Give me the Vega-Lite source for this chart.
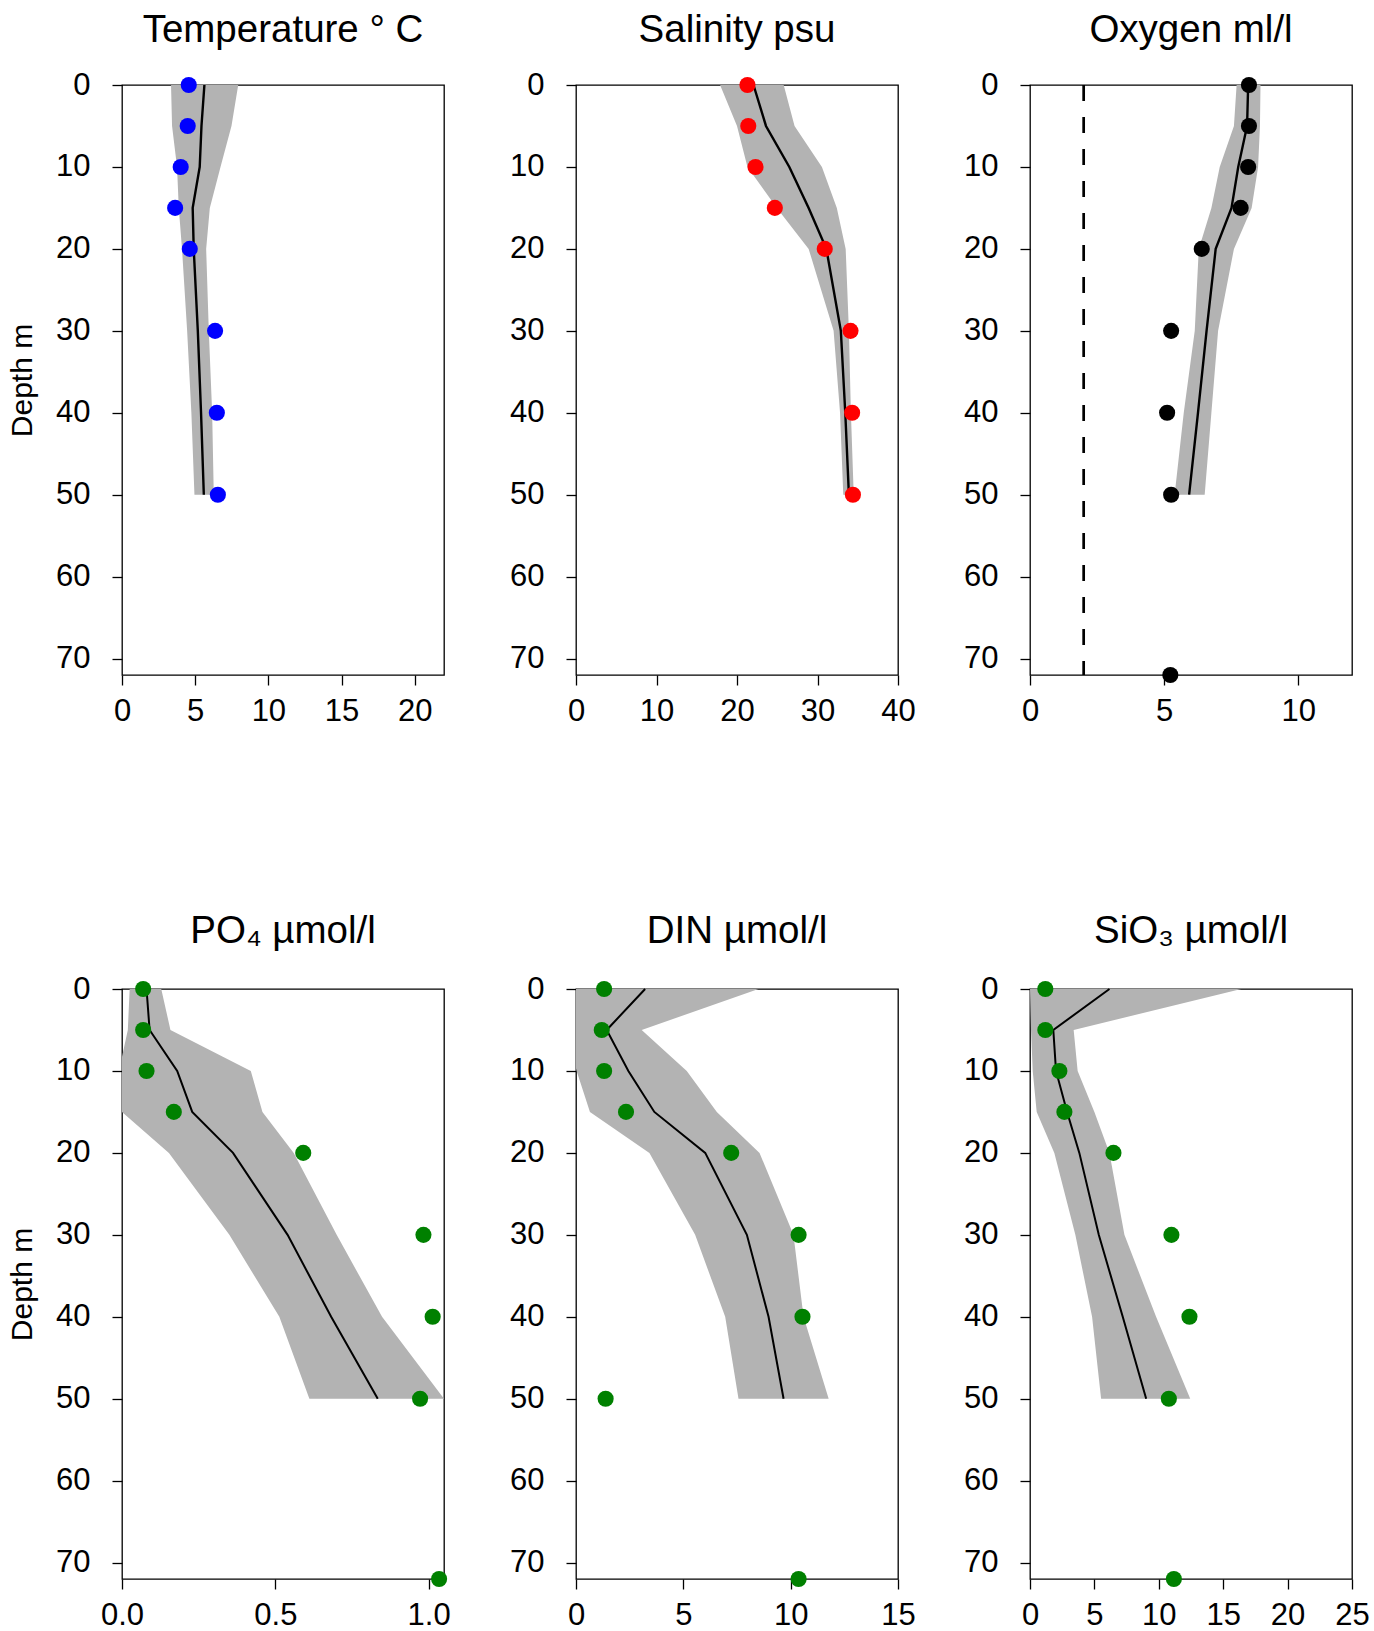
{
  "$schema": "https://vega.github.io/schema/vega-lite/v6.json",
  "background": "white",
  "padding": {"left": 6, "top": 9, "right": 0, "bottom": 0},
  "columns": 3,
  "bounds": "flush",
  "spacing": {"row": 314, "column": 132},
  "datasets": {
    "temp_band": [
      {"depth": 0, "mean": 5.63, "lo": 3.35, "hi": 7.94},
      {"depth": 5, "mean": 5.43, "lo": 3.42, "hi": 7.48},
      {"depth": 10, "mean": 5.31, "lo": 3.76, "hi": 6.73},
      {"depth": 15, "mean": 4.83, "lo": 3.88, "hi": 6.0},
      {"depth": 20, "mean": 4.9, "lo": 4.1, "hi": 5.75},
      {"depth": 30, "mean": 5.18, "lo": 4.45, "hi": 5.93},
      {"depth": 40, "mean": 5.4, "lo": 4.74, "hi": 6.16},
      {"depth": 50, "mean": 5.59, "lo": 4.95, "hi": 6.27}
    ],
    "temp_obs": [
      {"depth": 0, "value": 4.56}, {"depth": 5, "value": 4.49}, {"depth": 10, "value": 4.01},
      {"depth": 15, "value": 3.63}, {"depth": 20, "value": 4.63}, {"depth": 30, "value": 6.36},
      {"depth": 40, "value": 6.48}, {"depth": 50, "value": 6.55}
    ],
    "sal_band": [
      {"depth": 0, "mean": 22.05, "lo": 17.9, "hi": 25.8},
      {"depth": 5, "mean": 23.6, "lo": 20.0, "hi": 27.15},
      {"depth": 10, "mean": 26.5, "lo": 21.3, "hi": 30.55},
      {"depth": 15, "mean": 28.9, "lo": 24.95, "hi": 32.4},
      {"depth": 20, "mean": 31.1, "lo": 28.9, "hi": 33.5},
      {"depth": 30, "mean": 32.9, "lo": 32.0, "hi": 33.9},
      {"depth": 40, "mean": 33.45, "lo": 32.8, "hi": 34.15},
      {"depth": 50, "mean": 33.9, "lo": 33.2, "hi": 34.5}
    ],
    "sal_obs": [
      {"depth": 0, "value": 21.3}, {"depth": 5, "value": 21.4}, {"depth": 10, "value": 22.3},
      {"depth": 15, "value": 24.7}, {"depth": 20, "value": 30.9}, {"depth": 30, "value": 34.1},
      {"depth": 40, "value": 34.3}, {"depth": 50, "value": 34.4}
    ],
    "oxy_band": [
      {"depth": 0, "mean": 8.13, "lo": 7.7, "hi": 8.59},
      {"depth": 5, "mean": 8.09, "lo": 7.6, "hi": 8.57},
      {"depth": 10, "mean": 7.76, "lo": 7.07, "hi": 8.5},
      {"depth": 15, "mean": 7.51, "lo": 6.76, "hi": 8.26},
      {"depth": 20, "mean": 6.92, "lo": 6.29, "hi": 7.6},
      {"depth": 30, "mean": 6.58, "lo": 6.14, "hi": 7.01},
      {"depth": 40, "mean": 6.26, "lo": 5.73, "hi": 6.76},
      {"depth": 50, "mean": 5.93, "lo": 5.39, "hi": 6.51}
    ],
    "oxy_obs": [
      {"depth": 0, "value": 8.16}, {"depth": 5, "value": 8.16}, {"depth": 10, "value": 8.13},
      {"depth": 15, "value": 7.85}, {"depth": 20, "value": 6.4}, {"depth": 30, "value": 5.26},
      {"depth": 40, "value": 5.11}, {"depth": 50, "value": 5.26}, {"depth": 72, "value": 5.23}
    ],
    "oxy_limit": [{"limit": 2}],
    "po4_band": [
      {"depth": 0, "mean": 0.08, "lo": 0.025, "hi": 0.128},
      {"depth": 5, "mean": 0.09, "lo": 0.019, "hi": 0.158},
      {"depth": 10, "mean": 0.18, "lo": -0.01, "hi": 0.42},
      {"depth": 15, "mean": 0.229, "lo": 0.0, "hi": 0.458},
      {"depth": 20, "mean": 0.362, "lo": 0.153, "hi": 0.56},
      {"depth": 30, "mean": 0.54, "lo": 0.35, "hi": 0.7},
      {"depth": 40, "mean": 0.682, "lo": 0.513, "hi": 0.848},
      {"depth": 50, "mean": 0.834, "lo": 0.611, "hi": 1.05}
    ],
    "po4_obs": [
      {"depth": 0, "value": 0.069}, {"depth": 5, "value": 0.069}, {"depth": 10, "value": 0.08},
      {"depth": 15, "value": 0.169}, {"depth": 20, "value": 0.591}, {"depth": 30, "value": 0.983},
      {"depth": 40, "value": 1.013}, {"depth": 50, "value": 0.972}, {"depth": 72, "value": 1.034}
    ],
    "din_band": [
      {"depth": 0, "mean": 3.22, "lo": -0.5, "hi": 8.5},
      {"depth": 5, "mean": 1.43, "lo": -0.5, "hi": 3.06},
      {"depth": 10, "mean": 2.44, "lo": 0.03, "hi": 5.16},
      {"depth": 15, "mean": 3.65, "lo": 0.65, "hi": 6.56},
      {"depth": 20, "mean": 6.02, "lo": 3.42, "hi": 8.55},
      {"depth": 30, "mean": 7.96, "lo": 5.55, "hi": 10.13},
      {"depth": 40, "mean": 8.97, "lo": 6.95, "hi": 10.6},
      {"depth": 50, "mean": 9.67, "lo": 7.57, "hi": 11.77}
    ],
    "din_obs": [
      {"depth": 0, "value": 1.31}, {"depth": 5, "value": 1.2}, {"depth": 10, "value": 1.31},
      {"depth": 15, "value": 2.33}, {"depth": 20, "value": 7.23}, {"depth": 30, "value": 10.37},
      {"depth": 40, "value": 10.55}, {"depth": 50, "value": 1.38}, {"depth": 72, "value": 10.37}
    ],
    "sio_band": [
      {"depth": 0, "mean": 6.17, "lo": 0.0, "hi": 16.4},
      {"depth": 5, "mean": 1.81, "lo": 0.08, "hi": 3.39},
      {"depth": 10, "mean": 2.02, "lo": 0.21, "hi": 3.7},
      {"depth": 15, "mean": 2.88, "lo": 0.52, "hi": 5.0},
      {"depth": 20, "mean": 3.83, "lo": 1.89, "hi": 6.17},
      {"depth": 30, "mean": 5.34, "lo": 3.52, "hi": 7.33},
      {"depth": 40, "mean": 7.2, "lo": 4.82, "hi": 9.79},
      {"depth": 50, "mean": 9.02, "lo": 5.52, "hi": 12.44}
    ],
    "sio_obs": [
      {"depth": 0, "value": 1.19}, {"depth": 5, "value": 1.19}, {"depth": 10, "value": 2.28},
      {"depth": 15, "value": 2.67}, {"depth": 20, "value": 6.48}, {"depth": 30, "value": 10.98},
      {"depth": 40, "value": 12.38}, {"depth": 50, "value": 10.78}, {"depth": 72, "value": 11.17}
    ]
  },
  "concat": [
    {
      "width": 322, "height": 590,
      "title": {"text": "Temperature ° C", "offset": 19},
      "layer": [
        {"data": {"name": "temp_band"}, "mark": {"type": "area", "orient": "horizontal", "color": "#B3B3B3", "opacity": 1, "clip": true},
         "encoding": {
           "y": {"field": "depth", "type": "quantitative", "scale": {"domain": [0, 72], "reverse": true, "nice": false, "zero": false},
                 "axis": {"values": [0, 10, 20, 30, 40, 50, 60, 70], "title": "Depth m", "titleX": -91, "titleY": 295, "titleAngle": -90, "titleBaseline": "alphabetic", "titleAlign": "center"}},
           "x": {"field": "lo", "type": "quantitative", "scale": {"domain": [0, 22], "nice": false, "zero": false}, "axis": {"values": [0, 5, 10, 15, 20], "title": null}},
           "x2": {"field": "hi"}}},
        {"data": {"name": "temp_band"}, "mark": {"type": "line", "color": "black", "strokeWidth": 2.4},
         "encoding": {"y": {"field": "depth", "type": "quantitative"}, "x": {"field": "mean", "type": "quantitative"}, "order": {"field": "depth", "type": "quantitative"}}},
        {"data": {"name": "temp_obs"}, "mark": {"type": "circle", "color": "#0000FF", "size": 260, "opacity": 1},
         "encoding": {"y": {"field": "depth", "type": "quantitative"}, "x": {"field": "value", "type": "quantitative"}}}
      ]
    },
    {
      "width": 322, "height": 590,
      "title": {"text": "Salinity psu", "offset": 19},
      "layer": [
        {"data": {"name": "sal_band"}, "mark": {"type": "area", "orient": "horizontal", "color": "#B3B3B3", "opacity": 1, "clip": true},
         "encoding": {
           "y": {"field": "depth", "type": "quantitative", "scale": {"domain": [0, 72], "reverse": true, "nice": false, "zero": false},
                 "axis": {"values": [0, 10, 20, 30, 40, 50, 60, 70], "title": null}},
           "x": {"field": "lo", "type": "quantitative", "scale": {"domain": [0, 40], "nice": false, "zero": false}, "axis": {"values": [0, 10, 20, 30, 40], "title": null}},
           "x2": {"field": "hi"}}},
        {"data": {"name": "sal_band"}, "mark": {"type": "line", "color": "black", "strokeWidth": 2.4},
         "encoding": {"y": {"field": "depth", "type": "quantitative"}, "x": {"field": "mean", "type": "quantitative"}, "order": {"field": "depth", "type": "quantitative"}}},
        {"data": {"name": "sal_obs"}, "mark": {"type": "circle", "color": "#FF0000", "size": 260, "opacity": 1},
         "encoding": {"y": {"field": "depth", "type": "quantitative"}, "x": {"field": "value", "type": "quantitative"}}}
      ]
    },
    {
      "width": 322, "height": 590,
      "title": {"text": "Oxygen ml/l", "offset": 19},
      "layer": [
        {"data": {"name": "oxy_band"}, "mark": {"type": "area", "orient": "horizontal", "color": "#B3B3B3", "opacity": 1, "clip": true},
         "encoding": {
           "y": {"field": "depth", "type": "quantitative", "scale": {"domain": [0, 72], "reverse": true, "nice": false, "zero": false},
                 "axis": {"values": [0, 10, 20, 30, 40, 50, 60, 70], "title": null}},
           "x": {"field": "lo", "type": "quantitative", "scale": {"domain": [0, 12], "nice": false, "zero": false}, "axis": {"values": [0, 5, 10], "title": null}},
           "x2": {"field": "hi"}}},
        {"data": {"name": "oxy_band"}, "mark": {"type": "line", "color": "black", "strokeWidth": 2.4},
         "encoding": {"y": {"field": "depth", "type": "quantitative"}, "x": {"field": "mean", "type": "quantitative"}, "order": {"field": "depth", "type": "quantitative"}}},
        {"data": {"name": "oxy_limit"}, "mark": {"type": "rule", "color": "black", "strokeWidth": 2.7, "strokeDash": [16, 16]},
         "encoding": {"x": {"field": "limit", "type": "quantitative"}}},
        {"data": {"name": "oxy_obs"}, "mark": {"type": "circle", "color": "#000000", "size": 260, "opacity": 1},
         "encoding": {"y": {"field": "depth", "type": "quantitative"}, "x": {"field": "value", "type": "quantitative"}}}
      ]
    },
    {
      "width": 322, "height": 590,
      "title": {"text": "PO₄ µmol/l", "offset": 22},
      "layer": [
        {"data": {"name": "po4_band"}, "mark": {"type": "area", "orient": "horizontal", "color": "#B3B3B3", "opacity": 1, "clip": true},
         "encoding": {
           "y": {"field": "depth", "type": "quantitative", "scale": {"domain": [0, 72], "reverse": true, "nice": false, "zero": false},
                 "axis": {"values": [0, 10, 20, 30, 40, 50, 60, 70], "title": "Depth m", "titleX": -91, "titleY": 295, "titleAngle": -90, "titleBaseline": "alphabetic", "titleAlign": "center"}},
           "x": {"field": "lo", "type": "quantitative", "scale": {"domain": [0, 1.05], "nice": false, "zero": false}, "axis": {"values": [0, 0.5, 1.0], "format": ".1f", "title": null}},
           "x2": {"field": "hi"}}},
        {"data": {"name": "po4_band"}, "mark": {"type": "line", "color": "black", "strokeWidth": 2},
         "encoding": {"y": {"field": "depth", "type": "quantitative"}, "x": {"field": "mean", "type": "quantitative"}, "order": {"field": "depth", "type": "quantitative"}}},
        {"data": {"name": "po4_obs"}, "mark": {"type": "circle", "color": "#008000", "size": 260, "opacity": 1},
         "encoding": {"y": {"field": "depth", "type": "quantitative"}, "x": {"field": "value", "type": "quantitative"}}}
      ]
    },
    {
      "width": 322, "height": 590,
      "title": {"text": "DIN µmol/l", "offset": 22},
      "layer": [
        {"data": {"name": "din_band"}, "mark": {"type": "area", "orient": "horizontal", "color": "#B3B3B3", "opacity": 1, "clip": true},
         "encoding": {
           "y": {"field": "depth", "type": "quantitative", "scale": {"domain": [0, 72], "reverse": true, "nice": false, "zero": false},
                 "axis": {"values": [0, 10, 20, 30, 40, 50, 60, 70], "title": null}},
           "x": {"field": "lo", "type": "quantitative", "scale": {"domain": [0, 15], "nice": false, "zero": false}, "axis": {"values": [0, 5, 10, 15], "title": null}},
           "x2": {"field": "hi"}}},
        {"data": {"name": "din_band"}, "mark": {"type": "line", "color": "black", "strokeWidth": 2},
         "encoding": {"y": {"field": "depth", "type": "quantitative"}, "x": {"field": "mean", "type": "quantitative"}, "order": {"field": "depth", "type": "quantitative"}}},
        {"data": {"name": "din_obs"}, "mark": {"type": "circle", "color": "#008000", "size": 260, "opacity": 1},
         "encoding": {"y": {"field": "depth", "type": "quantitative"}, "x": {"field": "value", "type": "quantitative"}}}
      ]
    },
    {
      "width": 322, "height": 590,
      "title": {"text": "SiO₃ µmol/l", "offset": 22},
      "layer": [
        {"data": {"name": "sio_band"}, "mark": {"type": "area", "orient": "horizontal", "color": "#B3B3B3", "opacity": 1, "clip": true},
         "encoding": {
           "y": {"field": "depth", "type": "quantitative", "scale": {"domain": [0, 72], "reverse": true, "nice": false, "zero": false},
                 "axis": {"values": [0, 10, 20, 30, 40, 50, 60, 70], "title": null}},
           "x": {"field": "lo", "type": "quantitative", "scale": {"domain": [0, 25], "nice": false, "zero": false}, "axis": {"values": [0, 5, 10, 15, 20, 25], "title": null}},
           "x2": {"field": "hi"}}},
        {"data": {"name": "sio_band"}, "mark": {"type": "line", "color": "black", "strokeWidth": 2},
         "encoding": {"y": {"field": "depth", "type": "quantitative"}, "x": {"field": "mean", "type": "quantitative"}, "order": {"field": "depth", "type": "quantitative"}}},
        {"data": {"name": "sio_obs"}, "mark": {"type": "circle", "color": "#008000", "size": 260, "opacity": 1},
         "encoding": {"y": {"field": "depth", "type": "quantitative"}, "x": {"field": "value", "type": "quantitative"}}}
      ]
    }
  ],
  "config": {
    "font": "Liberation Sans",
    "view": {"stroke": "black", "strokeWidth": 1.3},
    "axis": {
      "grid": false, "domain": false,
      "ticks": true, "tickColor": "black", "tickWidth": 1.3, "tickSize": 10,
      "labelFont": "Liberation Sans", "labelFontSize": 31, "labelColor": "black",
      "labelOverlap": false, "labelFlush": false, "labelBound": false,
      "titleFont": "Liberation Sans", "titleFontSize": 30, "titleColor": "black", "titleFontWeight": "normal"
    },
    "axisX": {"labelPadding": 11},
    "axisY": {"labelPadding": 22},
    "title": {"font": "Liberation Sans", "fontSize": 38.5, "fontWeight": "normal", "color": "black", "baseline": "alphabetic", "anchor": "middle", "frame": "group"}
  }
}
